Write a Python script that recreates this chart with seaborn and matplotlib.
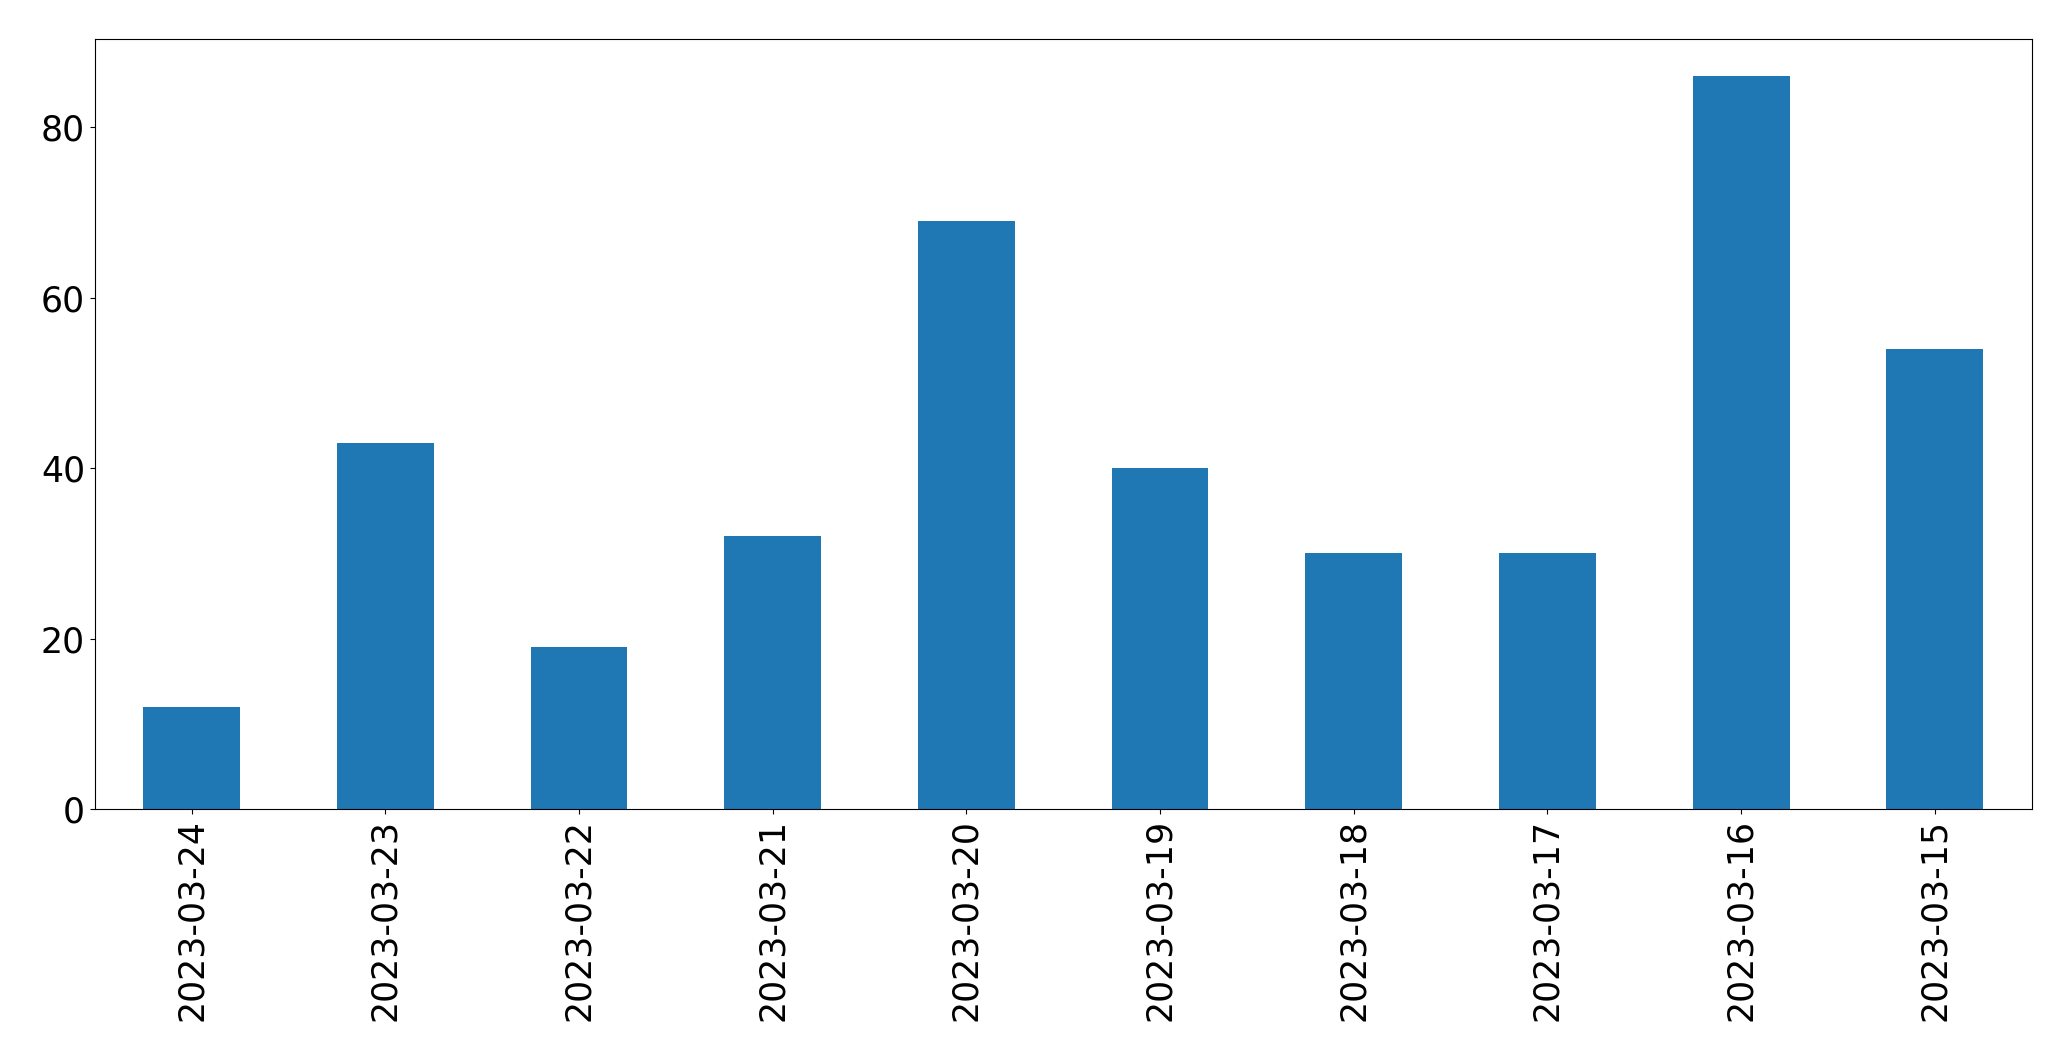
import matplotlib
matplotlib.use("Agg")
import matplotlib.pyplot as plt
import seaborn as sns
import pandas as pd

dates = ["2023-03-24", "2023-03-23", "2023-03-22", "2023-03-21", "2023-03-20",
         "2023-03-19", "2023-03-18", "2023-03-17", "2023-03-16", "2023-03-15"]
counts = [12, 43, 19, 32, 69, 40, 30, 30, 86, 54]

df = pd.DataFrame({"date": dates, "count": counts})

fig = plt.figure(figsize=(20.71, 10.61), dpi=100)
ax = fig.add_axes([94.7 / 2071, 1 - 809.3 / 1061, (2031.7 - 94.7) / 2071, (809.3 - 39.3) / 1061])
sns.barplot(data=df, x="date", y="count", order=dates, color="#1f77b4",
            saturation=1, width=0.5, ax=ax)
ax.set_xlim(-0.5, len(dates) - 0.5)
ax.set_ylim(0, max(counts) * 1.05)
ax.set_xlabel("")
ax.set_ylabel("")
ax.tick_params(axis="both", labelsize=25)
plt.setp(ax.get_xticklabels(), rotation=90)
fig.savefig("out.png", dpi=100)
